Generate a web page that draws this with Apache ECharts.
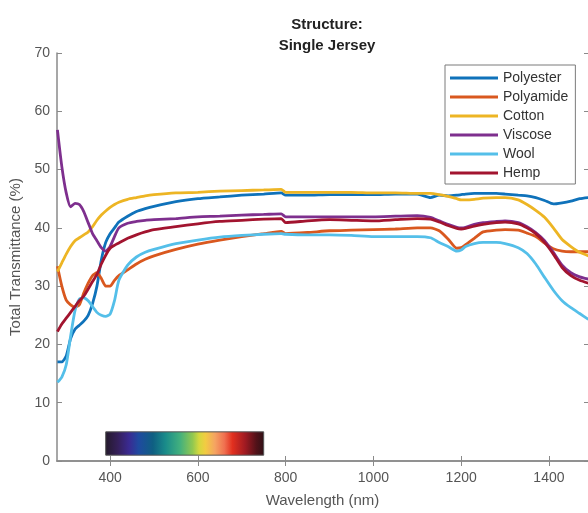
<!DOCTYPE html>
<html>
<head>
<meta charset="utf-8">
<script src="https://cdn.jsdelivr.net/npm/echarts@6/dist/echarts.min.js"></script>
<style>
  html, body { margin: 0; padding: 0; background: #fff; }
  #chart { width: 588px; height: 513px; }
</style>
</head>
<body>
<div id="chart"></div>
<script>
// wavelength (nm) where every curve was read
var wavelength = [280, 290, 300, 310, 320, 330, 340, 350, 360, 370, 380, 390, 400, 410, 420, 440, 460, 480, 500, 550,
  600, 650, 700, 750, 790, 800, 850, 900, 950, 1000, 1050, 1100, 1130, 1150, 1170, 1190, 1200, 1210, 1230, 1250,
  1280, 1300, 1330, 1350, 1370, 1390, 1410, 1430, 1450, 1470, 1490];

var polyester = [17.0, 17.0, 18.0, 21.0, 22.6, 23.3, 24.0, 25.0, 27.0, 30.0, 34.5, 37.5, 39.0, 40.0, 41.0, 42.0, 42.8, 43.3, 43.7, 44.5,
  45.0, 45.3, 45.6, 45.8, 46.0, 45.6, 45.6, 45.7, 45.7, 45.7, 45.8, 45.8, 45.2, 45.6, 45.5, 45.6, 45.7, 45.8, 45.9, 45.9,
  45.9, 45.8, 45.6, 45.5, 45.2, 44.7, 44.1, 44.3, 44.6, 45.0, 45.2];
var polyamide = [33.4, 30.0, 27.6, 26.8, 26.4, 26.8, 28.8, 30.5, 31.8, 32.3, 31.3, 30.0, 30.0, 31.0, 31.8, 32.8, 33.8, 34.6, 35.2, 36.3,
  37.2, 37.9, 38.5, 39.0, 39.4, 39.0, 39.2, 39.5, 39.6, 39.7, 39.8, 40.0, 40.0, 39.5, 38.1, 36.5, 36.6, 37.1, 38.2, 39.3,
  39.6, 39.7, 39.6, 39.1, 38.5, 37.4, 36.4, 36.0, 35.9, 35.9, 35.9];
var cotton = [32.5, 34.0, 35.5, 36.8, 37.8, 38.3, 38.8, 39.3, 40.2, 41.3, 42.2, 42.9, 43.5, 44.0, 44.4, 44.9, 45.2, 45.5, 45.7, 46.0,
  46.1, 46.3, 46.4, 46.5, 46.6, 46.1, 46.1, 46.1, 46.1, 46.0, 46.0, 45.9, 45.9, 45.7, 45.4, 45.0, 44.8, 44.8, 44.9, 45.1,
  45.2, 45.2, 44.8, 44.0, 43.0, 41.8, 40.0, 38.0, 36.8, 35.8, 35.2];
var viscose = [56.8, 50.5, 46.0, 43.6, 44.2, 44.0, 42.8, 40.9, 39.0, 37.8, 36.6, 36.0, 36.8, 38.5, 40.0, 40.8, 41.1, 41.3, 41.4, 41.6,
  41.9, 42.0, 42.2, 42.3, 42.4, 41.9, 41.9, 41.9, 41.9, 41.9, 42.0, 42.1, 41.8, 41.2, 40.6, 40.1, 40.0, 40.1, 40.6, 40.9,
  41.1, 41.2, 40.9, 40.2, 39.2, 37.8, 35.8, 33.6, 32.3, 31.6, 31.2];
var wool = [13.5, 14.4, 16.5, 21.4, 25.8, 27.8, 28.0, 27.5, 26.5, 25.5, 25.0, 24.8, 25.2, 27.5, 31.0, 33.6, 35.0, 35.8, 36.3, 37.3,
  37.9, 38.4, 38.7, 38.9, 39.0, 38.9, 38.8, 38.8, 38.7, 38.5, 38.5, 38.5, 38.3, 37.5, 36.8, 36.0, 36.2, 36.8, 37.3, 37.5,
  37.5, 37.3, 36.6, 35.6, 33.8, 31.5, 29.3, 27.5, 26.3, 25.3, 24.3];
var hemp = [22.2, 23.5, 24.5, 25.5, 26.5, 27.5, 28.3, 29.5, 30.8, 32.0, 33.8, 35.3, 36.5, 37.0, 37.4, 38.2, 38.8, 39.3, 39.7, 40.2,
  40.7, 41.1, 41.3, 41.5, 41.6, 40.9, 41.2, 41.4, 41.3, 41.2, 41.4, 41.6, 41.5, 41.0, 40.4, 39.9, 39.8, 39.9, 40.3, 40.6,
  40.9, 41.0, 40.7, 40.0, 39.0, 37.5, 35.5, 33.2, 31.8, 31.0, 30.5];

var seriesNames = ['Polyester', 'Polyamide', 'Cotton', 'Viscose', 'Wool', 'Hemp'];
var seriesValues = [polyester, polyamide, cotton, viscose, wool, hemp];
var seriesColors = ['#0f72ba', '#d9581f', '#edb524', '#7e2f8e', '#54bfe9', '#a2142f'];

var xTicks = [400, 600, 800, 1000, 1200, 1400];
// visible spectrum bar (nm range, height in %)
var spectrumRange = [390, 750];
var spectrumHeight = [1, 5];

var font = 'Liberation Sans, Arial, Helvetica, sans-serif';

var chart = echarts.init(document.getElementById('chart'));

var series = seriesNames.map(function (name, i) {
  return {
    name: name,
    type: 'line',
    showSymbol: false,
    smooth: 0.2,
    z: 3 + i,
    color: seriesColors[i],
    lineStyle: { width: 2.8, color: seriesColors[i] },
    data: wavelength.map(function (w, k) { return [w, seriesValues[i][k]]; })
  };
});

// colour bar of the visible spectrum, placed in data coordinates
series[0].markArea = {
  silent: true,
  z: 1,
  itemStyle: {
    borderColor: '#555',
    borderWidth: 1,
    color: new echarts.graphic.LinearGradient(0, 0, 1, 0, [
      { offset: 0.00, color: '#241a2a' },
      { offset: 0.08, color: '#35205a' },
      { offset: 0.15, color: '#3a2a92' },
      { offset: 0.21, color: '#1f4aa0' },
      { offset: 0.30, color: '#0f5f82' },
      { offset: 0.38, color: '#1a8c8a' },
      { offset: 0.47, color: '#42b07e' },
      { offset: 0.55, color: '#92c850' },
      { offset: 0.59, color: '#d4d83e' },
      { offset: 0.63, color: '#f2cc42' },
      { offset: 0.69, color: '#f5a462' },
      { offset: 0.75, color: '#f07050' },
      { offset: 0.80, color: '#e2301f' },
      { offset: 0.88, color: '#a01a22' },
      { offset: 0.95, color: '#521219' },
      { offset: 1.00, color: '#2e1016' }
    ])
  },
  data: [[
    { coord: [spectrumRange[0], spectrumHeight[0]] },
    { coord: [spectrumRange[1], spectrumHeight[1]] }
  ]]
};

var axisGrey = '#8a8a8a';
var labelGrey = '#555';
var plainNumber = function (v) { return String(v); };

var option = {
  animation: false,
  backgroundColor: '#fff',
  title: {
    text: 'Structure:\nSingle Jersey',
    left: 322,
    top: 9,
    textAlign: 'center',
    textStyle: { fontFamily: font, fontSize: 15, fontWeight: 'bold', color: '#222', lineHeight: 21 }
  },
  legend: {
    orient: 'vertical',
    left: 445,
    top: 65,
    padding: [5, 7, 3, 5],
    itemGap: 3,
    itemWidth: 48,
    itemHeight: 3,
    icon: 'rect',
    backgroundColor: '#fff',
    borderColor: '#7a7a7a',
    borderWidth: 1,
    borderRadius: 0,
    textStyle: { fontFamily: font, fontSize: 14, color: '#333', lineHeight: 16 },
    data: seriesNames
  },
  grid: { left: 57, top: 53, right: 0, bottom: 51 },
  xAxis: [{
    type: 'value',
    min: 279,
    max: 1489,
    name: 'Wavelength (nm)',
    nameLocation: 'middle',
    nameGap: 32,
    nameTextStyle: { fontFamily: font, fontSize: 15, color: labelGrey },
    axisLine: { show: true, lineStyle: { color: axisGrey, width: 1.5 } },
    axisTick: { show: true, inside: true, length: 5, customValues: xTicks, lineStyle: { color: axisGrey } },
    axisLabel: { customValues: xTicks, formatter: plainNumber, margin: 10, fontFamily: font, fontSize: 14, color: labelGrey },
    splitLine: { show: false }
  }, {
    type: 'value',
    position: 'top',
    min: 279,
    max: 1489,
    axisLine: { show: true, lineStyle: { color: axisGrey, width: 1.5 } },
    axisTick: { show: true, inside: true, length: 5, customValues: xTicks, lineStyle: { color: axisGrey } },
    axisLabel: { show: false },
    splitLine: { show: false }
  }],
  yAxis: [{
    type: 'value',
    min: 0,
    max: 70,
    interval: 10,
    name: 'Total Transmittance (%)',
    nameLocation: 'middle',
    nameGap: 34,
    nameTextStyle: { fontFamily: font, fontSize: 15, color: labelGrey },
    axisLine: { show: true, lineStyle: { color: axisGrey, width: 1.5 } },
    axisTick: { show: true, inside: true, length: 5, lineStyle: { color: axisGrey } },
    axisLabel: { margin: 7, fontFamily: font, fontSize: 14, color: labelGrey },
    splitLine: { show: false }
  }, {
    type: 'value',
    position: 'right',
    min: 0,
    max: 70,
    interval: 10,
    axisLine: { show: false },
    axisTick: { show: true, inside: true, length: 4, lineStyle: { color: axisGrey } },
    axisLabel: { show: false },
    splitLine: { show: false }
  }],
  series: series
};

chart.setOption(option);
</script>
</body>
</html>
